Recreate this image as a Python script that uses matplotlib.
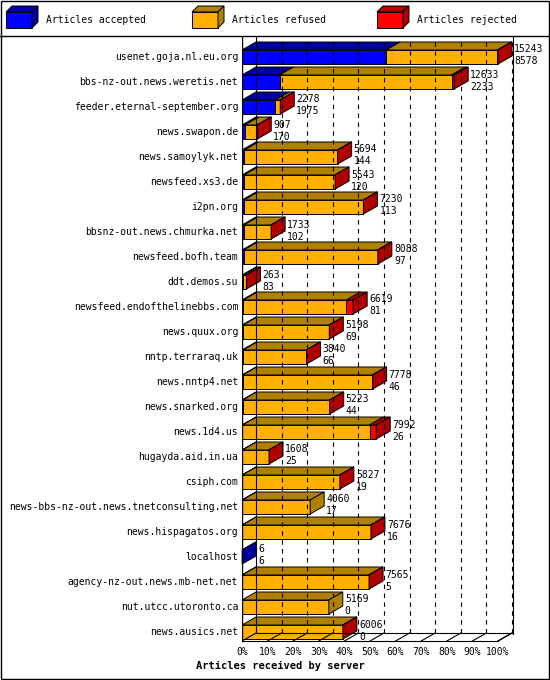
import matplotlib
matplotlib.use("Agg")
import matplotlib.pyplot as plt
from matplotlib.patches import Polygon, Rectangle

servers = ["usenet.goja.nl.eu.org","bbs-nz-out.news.weretis.net","feeder.eternal-september.org",
"news.swapon.de","news.samoylyk.net","newsfeed.xs3.de","i2pn.org","bbsnz-out.news.chmurka.net",
"newsfeed.bofh.team","ddt.demos.su","newsfeed.endofthelinebbs.com","news.quux.org","nntp.terraraq.uk",
"news.nntp4.net","news.snarked.org","news.1d4.us","hugayda.aid.in.ua","csiph.com",
"news-bbs-nz-out.news.tnetconsulting.net","news.hispagatos.org","localhost",
"agency-nz-out.news.mb-net.net","nut.utcc.utoronto.ca","news.ausics.net"]
offered = [15243,12633,2278,907,5694,5543,7230,1733,8088,263,6619,5198,3840,7778,5223,7992,1608,5827,4060,7676,6,7565,5169,6006]
accepted = [8578,2233,1975,170,144,120,113,102,97,83,81,69,66,46,44,26,25,19,17,16,6,5,0,0]
rejected = [40,150,25,5,5,5,5,5,5,5,400,5,5,10,5,400,5,5,0,5,0,20,0,5]
ticks = [0,10,20,30,40,50,60,70,80,90,100]

W, H = 550, 680
fig = plt.figure(figsize=(W/100, H/100), dpi=100)
bg = fig.add_axes([0,0,1,1]); bg.set_xlim(0,W); bg.set_ylim(H,0); bg.axis("off")
bg.add_patch(Rectangle((0.5,0.5),W-1.5,H-1.5,fill=False,lw=1,ec="black"))
bg.plot([0,W],[36,36],color="black",lw=1)
bg.plot([513,513],[36,634],color="black",lw=0.8)

def cube(x, y, col, top):
    bg.add_patch(Polygon([(x,y+6),(x+26,y+6),(x+26,y+22),(x,y+22)],fc=col,ec="black",lw=0.7))
    bg.add_patch(Polygon([(x,y+6),(x+6,y),(x+32,y),(x+26,y+6)],fc=top,ec="black",lw=0.7))
    bg.add_patch(Polygon([(x+26,y+6),(x+32,y),(x+32,y+16),(x+26,y+22)],fc=top,ec="black",lw=0.7))
mono = "DejaVu Sans Mono"
for x, col, top, lab in [(6,"#0000ff","#0000a0","Articles accepted"),(192,"#ffb000","#b08000","Articles refused"),(377,"#ff0000","#b00000","Articles rejected")]:
    cube(x, 6, col, top)
    bg.text(x+40, 20, lab, fontsize=7, family=mono, va="center")

x0, sx = 242, 2.56
ytop, ybot = 36, 645
ax = fig.add_axes([x0/W, 1-ybot/H, (520-x0)/W, (ybot-ytop)/H])
ax.set_xlim(0, (520-x0)/sx)
r0, rs = 57, 25
ax.set_ylim((ybot-r0)/rs, (ytop-r0)/rs)
ax.axis("off")
dx = 14/sx; dy = 8/rs; hh = 0.28
n = len(servers)
floor = (641-r0)/rs

for t in ticks[1:]:
    ax.plot([t+dx,t+dx],[floor-dy,-0.7],color="black",lw=0.8,ls=(0,(4,4)))
ax.plot([0,0],[floor,-0.84],color="black",lw=1)
ax.plot([dx,dx],[floor-dy,-0.84],color="black",lw=0.8)
ax.plot([0,100],[floor,floor],color="black",lw=0.8)
ax.plot([dx,100+dx],[floor-dy,floor-dy],color="black",lw=0.8)
ax.plot([100,100+dx],[floor,floor-dy],color="black",lw=0.8)
for t in ticks:
    ax.plot([t,t+dx],[floor,floor-dy],color="black",lw=0.8)
    ax.text(t, floor+0.45, f"{t}%", fontsize=7, family=mono, ha="center", va="center", clip_on=False)
ax.text(15, floor+1.0, "Articles received by server", fontsize=7.5, family=mono, weight="bold", ha="center", va="center", clip_on=False)

cols = [("#0000ff","#0000a0"),("#ffb000","#b08000"),("#ff0000","#b00000")]
mx = max(offered)
for i in range(n):
    a = accepted[i]/mx*100; rj = rejected[i]/mx*100
    rf = (offered[i]-accepted[i]-rejected[i])/mx*100
    left = 0; last = None
    for val, (c, ct) in zip([a, rf, rj], cols):
        if val <= 0: continue
        ax.add_patch(Polygon([(left,i-hh),(left+val,i-hh),(left+val,i+hh),(left,i+hh)],fc=c,ec="black",lw=0.7,clip_on=False))
        ax.add_patch(Polygon([(left,i-hh),(left+dx,i-hh-dy),(left+val+dx,i-hh-dy),(left+val,i-hh)],fc=ct,ec="black",lw=0.7,clip_on=False))
        left += val; last = ct
    if last:
        ax.add_patch(Polygon([(left,i-hh),(left+dx,i-hh-dy),(left+dx,i+hh-dy),(left,i+hh)],fc=last,ec="black",lw=0.7,clip_on=False))
    ax.text(left+dx+0.8, i-0.3, str(offered[i]), fontsize=7, family=mono, va="center", clip_on=False)
    ax.text(left+dx+0.8, i+0.18, str(accepted[i]), fontsize=7, family=mono, va="center", clip_on=False)
    ax.text(-1.5, i, servers[i], fontsize=7, family=mono, ha="right", va="center", clip_on=False)

fig.savefig("out.png", dpi=100)
